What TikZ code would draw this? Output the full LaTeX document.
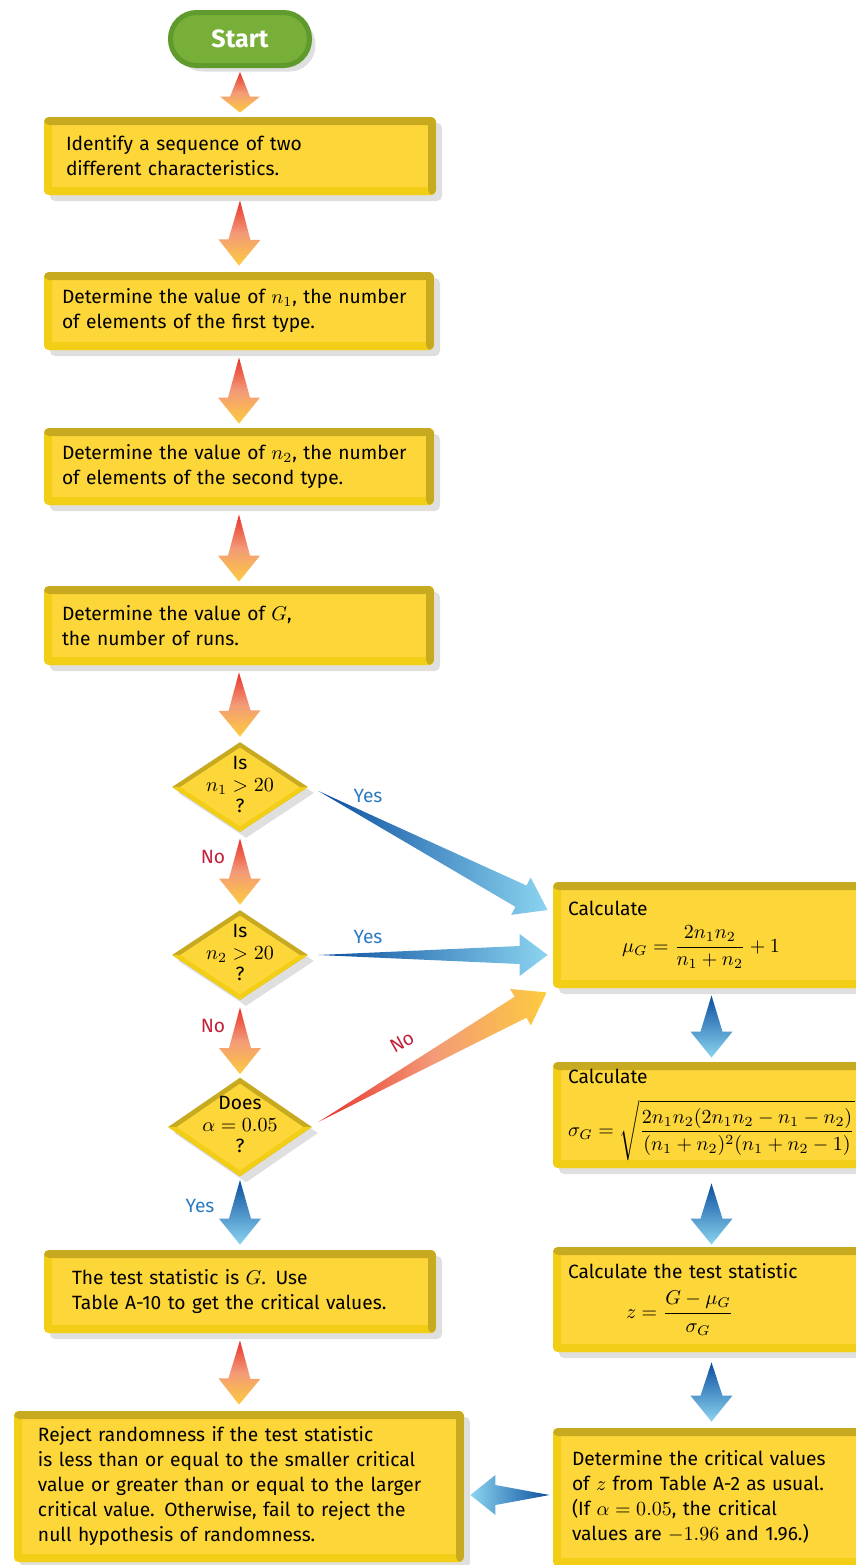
\documentclass[tikz,border=0pt]{standalone}
\usepackage{fontspec}
\setmainfont{Fira Sans}
\usepackage{amsmath}
\usetikzlibrary{calc,shapes.geometric,shadows}

\definecolor{boxfill}{HTML}{FDD63A}
\definecolor{bevdark}{HTML}{C7AA1F}
\definecolor{bevlight}{HTML}{F2CF16}
\definecolor{startgreen}{HTML}{78AF38}
\definecolor{startedge}{HTML}{5F9A2C}
\definecolor{arrred}{HTML}{E8322A}
\definecolor{arrsalmon}{HTML}{F39A78}
\definecolor{arryellow}{HTML}{FDCB3E}
\definecolor{arrdeep}{HTML}{0B4E9E}
\definecolor{arrsky}{HTML}{8CD4F0}
\definecolor{yesblue}{HTML}{2B7BC2}
\definecolor{nored}{HTML}{C3213A}

\def\ppbb{path picture bounding box}
\newcommand\boxfont{\fontsize{9.6}{12.5}\selectfont}
\newcommand\query[1]{\smash{\raisebox{-.25em}{\renewcommand\arraystretch{.85}\begin{tabular}{@{}c@{}}#1\end{tabular}}}}

% tapered arrow: from, to, shaft half width, head half width, head length, fill options
\newcommand\spear[6]{%
  \coordinate (sp-a) at #1;
  \coordinate (sp-b) at #2;
  \coordinate (sp-h) at ($(sp-b)!#5!(sp-a)$);
  \path[#6] (sp-a) -- ($(sp-h)!#3!90:(sp-b)$) -- ($(sp-h)!#4!90:(sp-b)$) -- (sp-b)
    -- ($(sp-h)!#4!-90:(sp-b)$) -- ($(sp-h)!#3!-90:(sp-b)$) -- cycle;}

\begin{document}
\begin{tikzpicture}[x=0.5pt, y=-0.5pt,
  stepbox/.style={rectangle, rounded corners=2.5pt, fill=boxfill, align=left, inner sep=2pt, font=\boxfont,
    drop shadow={opacity=.25, shadow xshift=3pt, shadow yshift=-3pt},
    path picture={
      \fill[bevlight] (\ppbb.south west) rectangle ([xshift=4pt]\ppbb.north west);
      \fill[bevlight] (\ppbb.south west) rectangle ([yshift=4pt]\ppbb.south east);
      \fill[bevdark] ([yshift=-4pt]\ppbb.north west) rectangle (\ppbb.north east);
      \fill[bevdark] ([xshift=-4pt]\ppbb.south east) rectangle (\ppbb.north east);}},
  decision/.style={diamond, minimum width=68pt, minimum height=45pt, inner sep=0pt, fill=bevdark, font=\boxfont,
    drop shadow={opacity=.25, shadow xshift=3pt, shadow yshift=-3pt},
    path picture={
      \fill[bevlight] (\ppbb.west) -- (\ppbb.south) -- (\ppbb.east) -- cycle;
      \fill[boxfill] ($(\ppbb.center)!.88!(\ppbb.north)$) -- ($(\ppbb.center)!.88!(\ppbb.east)$)
        -- ($(\ppbb.center)!.88!(\ppbb.south)$) -- ($(\ppbb.center)!.88!(\ppbb.west)$) -- cycle;}},
  startbox/.style={rectangle, rounded corners=13pt, minimum width=69.5pt, minimum height=26.5pt, fill=startgreen,
    draw=startedge, line width=2.5pt, text=white, font=\fontsize{12.5}{15}\selectfont\bfseries,
    drop shadow={opacity=.25, shadow xshift=3pt, shadow yshift=-3pt}},
  warm/.style={top color=arrred, bottom color=arryellow, middle color=arrsalmon},
  cool/.style={top color=arrdeep, bottom color=arrsky},
  yeslab/.style={text=yesblue, font=\boxfont},
  nolab/.style={text=nored, font=\boxfont}]
\useasboundingbox (0,0) rectangle (856,1565);

\node[startbox] (start) at (240,39) {Start};
\node[stepbox, minimum width=196pt, minimum height=39pt, text width=174pt] (b1) at (240,156)
  {Identify a sequence of two\\different characteristics.};
\node[stepbox, minimum width=195pt, minimum height=39pt, text width=177pt] (b2) at (239,311)
  {Determine the value of $n_1$, the number\\of elements of the first type.};
\node[stepbox, minimum width=195pt, minimum height=38.5pt, text width=177pt] (b3) at (239,466.5)
  {Determine the value of $n_2$, the number\\of elements of the second type.};
\node[stepbox, minimum width=195pt, minimum height=39.5pt, text width=177pt] (b4) at (239,625.5)
  {Determine the value of $G$,\\the number of runs.};
\node[decision] (d1) at (240,787) {\query{Is\\$n_1>20$\\?}};
\node[decision] (d2) at (240,955) {\query{Is\\$n_2>20$\\?}};
\node[decision, minimum width=72pt, minimum height=49.5pt] (d3) at (240,1127) {\query{Does\\$\alpha=0.05$\\?}};
\node[stepbox, minimum width=196pt, minimum height=41.5pt, text width=168pt] (b5) at (240,1291.5)
  {The test statistic is $G$. Use\\Table A-10 to get the critical values.};
\node[stepbox, minimum width=225pt, minimum height=75.5pt, text width=201pt] (b6) at (239,1486.5)
  {Reject randomness if the test statistic\\is less than or equal to the smaller critical\\value or greater than or equal to the larger\\critical value. Otherwise, fail to reject the\\null hypothesis of randomness.};
\node[stepbox, minimum width=163.5pt, minimum height=53pt, text width=148.5pt] (r1) at (716.5,935)
  {Calculate\\[4pt]\hspace*{27pt}$\mu_G=\dfrac{2n_1n_2}{n_1+n_2}+1$};
\node[stepbox, minimum width=163.5pt, minimum height=53pt, text width=148.5pt] (r2) at (716.5,1115)
  {Calculate\\[7pt]$\sigma_G=\sqrt{\dfrac{2n_1n_2(2n_1n_2-n_1-n_2)}{(n_1+n_2)^2(n_1+n_2-1)}}$};
\node[stepbox, minimum width=163.5pt, minimum height=52.5pt, text width=148.5pt] (r3) at (716.5,1299.5)
  {Calculate the test statistic\\[5pt]\hspace*{29pt}$z=\dfrac{G-\mu_G}{\sigma_G}$};
\node[stepbox, minimum width=163.5pt, minimum height=69pt, text width=144.5pt] (r4) at (716.5,1497)
  {Determine the critical values\\of $z$ from Table A-2 as usual.\\(If $\alpha=0.05$, the critical\\values are $-1.96$ and 1.96.)};

\spear{([yshift=-2pt]start.south)}{([yshift=2pt]b1.north)}{5pt}{10pt}{8pt}{warm}
\spear{([yshift=-2.5pt]b1.south)}{([yshift=3pt]b2.north)}{5.5pt}{10.5pt}{13pt}{warm}
\spear{([yshift=-3.5pt]b2.south)}{([yshift=2pt]b3.north)}{5.5pt}{10.5pt}{13pt}{warm}
\spear{([yshift=-4.5pt]b3.south)}{([yshift=2pt]b4.north)}{5.5pt}{10.5pt}{13pt}{warm}
\spear{([yshift=-3.5pt]b4.south)}{([yshift=2.5pt]d1.north)}{5.5pt}{10.5pt}{13pt}{warm}
\spear{([yshift=-3pt]d1.south)}{([yshift=2.5pt]d2.north)}{5.5pt}{10.5pt}{13pt}{warm}
\spear{([yshift=-3.5pt]d2.south)}{([yshift=1.5pt]d3.north)}{5.5pt}{10.5pt}{13pt}{warm}
\spear{([yshift=-1.5pt]d3.south)}{([yshift=2.5pt]b5.north)}{5.5pt}{10.5pt}{13pt}{cool}
\spear{([yshift=-3.5pt]b5.south)}{([yshift=3pt]b6.north)}{5.5pt}{10.5pt}{13pt}{warm}
\spear{([xshift=-2.5pt,yshift=-3.5pt]r1.south)}{([xshift=-2.5pt,yshift=2pt]r2.north)}{5.5pt}{10.5pt}{13pt}{cool}
\spear{([xshift=-2.5pt,yshift=-7.5pt]r2.south)}{([xshift=-2.5pt,yshift=1pt]r3.north)}{5.5pt}{10.5pt}{13pt}{cool}
\spear{([xshift=-2.5pt,yshift=-5pt]r3.south)}{([xshift=-2.5pt,yshift=3pt]r4.north)}{5.5pt}{10.5pt}{13pt}{cool}

\spear{([xshift=5pt,yshift=-2pt]d1.east)}{([xshift=-2.5pt,yshift=12.5pt]r1.west)}{6pt}{10.5pt}{15pt}{left color=arrdeep, right color=arrsky}
\spear{([xshift=5pt]d2.east)}{([xshift=-2.5pt,yshift=-10pt]r1.west)}{4.5pt}{10.5pt}{14pt}{left color=arrdeep, right color=arrsky}
\spear{([xshift=3pt,yshift=2.5pt]d3.east)}{([xshift=-3pt,yshift=-2pt]r1.south west)}{6pt}{10.5pt}{15pt}{left color=arrred, right color=arryellow, middle color=arrsalmon}
\spear{([xshift=-1.5pt,yshift=1pt]r4.west)}{([xshift=3pt,yshift=-4.25pt]b6.east)}{5pt}{10pt}{12.5pt}{left color=arrsky, right color=arrdeep}

\node[yeslab] (yes1) at (368,796) {Yes};
\node[yeslab] (yes2) at (368,937) {Yes};
\node[nolab, rotate=29] (no3) at (402,1042) {No};
\node[nolab] (no1) at (213,857) {No};
\node[nolab] (no2) at (213,1026) {No};
\node[yeslab] (yes3) at (200,1206) {Yes};
\end{tikzpicture}
\end{document}
